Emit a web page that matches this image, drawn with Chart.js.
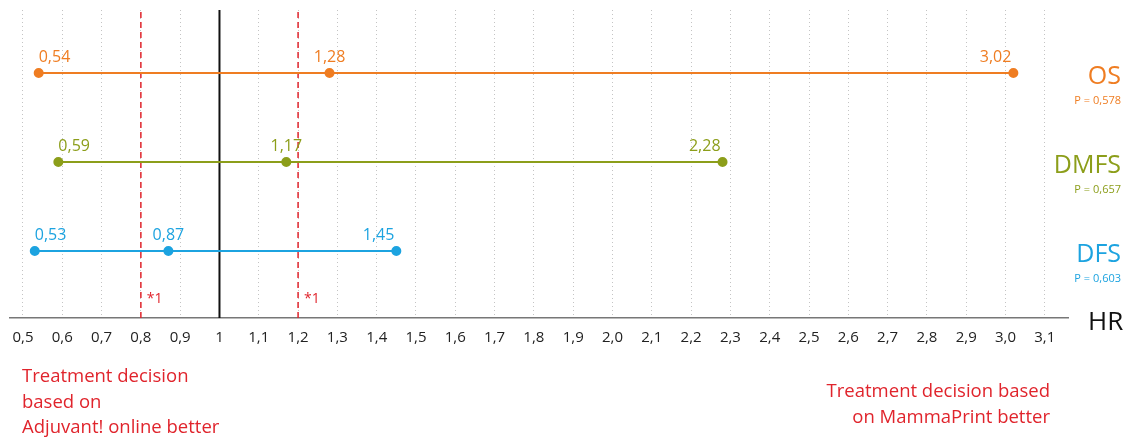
<!DOCTYPE html>
<html>
<head>
<meta charset="utf-8">
<title>Hazard ratios</title>
<script src="https://cdn.jsdelivr.net/npm/chart.js@4.4.0/dist/chart.umd.min.js"></script>
<style>
  html, body { margin: 0; padding: 0; background: #fff; }
  canvas { display: block; }
</style>
</head>
<body>
<canvas id="hr-chart" width="1132" height="439"></canvas>
<script>
// hazard ratios: lower bound, estimate, upper bound per endpoint
const outcomes = ['OS', 'DMFS', 'DFS'];
const pValues = ['P = 0,578', 'P = 0,657', 'P = 0,603'];
const hrLower = [0.54, 0.59, 0.53];
const hrPoint = [1.28, 1.17, 0.87];
const hrUpper = [3.02, 2.28, 1.45];
const tickLabels = ['0,5', '0,6', '0,7', '0,8', '0,9', '1', '1,1', '1,2', '1,3', '1,4',
  '1,5', '1,6', '1,7', '1,8', '1,9', '2,0', '2,1', '2,2', '2,3', '2,4', '2,5', '2,6',
  '2,7', '2,8', '2,9', '3,0', '3,1'];
const noEffect = 1;
const decisionBounds = [0.8, 1.2];

const outcomeColors = ['#ef7d22', '#8c9e1a', '#1ca3e0'];
const RED = '#e0242c';
const FONT = '"Open Sans", "Noto Sans", sans-serif';
const Y_MIN = 0.247, Y_MAX = 3.708;

const toNum = s => parseFloat(s.replace(',', '.'));
const fmt = v => v.toFixed(2).replace('.', ',');

const seriesSets = outcomes.map((name, i) => ({
  label: name,
  data: [hrLower[i], hrPoint[i], hrUpper[i]].map(v => ({ x: v, y: outcomes.length - i })),
  showLine: true,
  borderColor: outcomeColors[i],
  backgroundColor: outcomeColors[i],
  borderWidth: 2,
  pointRadius: 4,
  pointHoverRadius: 4,
  order: 0
}));

const vline = (x, color, width, dash) => ({
  label: 'ref ' + x,
  data: [{ x: x, y: Y_MIN }, { x: x, y: Y_MAX }],
  showLine: true,
  borderColor: color,
  borderWidth: width,
  borderDash: dash,
  pointRadius: 0,
  order: 1
});

const refSets = [vline(noEffect, '#111', 2, [])]
  .concat(decisionBounds.map(b => vline(b, RED, 1.5, [6, 4])));

const annotations = {
  id: 'annotations',
  afterDatasetsDraw(chart) {
    const ctx = chart.ctx;
    const xs = chart.scales.x, ys = chart.scales.y;
    const area = chart.chartArea;
    ctx.save();

    // value labels above each point
    ctx.font = '16px ' + FONT;
    ctx.textBaseline = 'alphabetic';
    outcomes.forEach((name, i) => {
      const vals = [hrLower[i], hrPoint[i], hrUpper[i]];
      const aligns = ['left', 'center', 'right'];
      const shift = [0, 0, -2];
      chart.getDatasetMeta(i).data.forEach((pt, j) => {
        ctx.fillStyle = outcomeColors[i];
        ctx.textAlign = aligns[j];
        ctx.fillText(fmt(vals[j]), pt.x + shift[j], pt.y - 11);
      });

      // endpoint name and p-value on the right
      const rowY = ys.getPixelForValue(outcomes.length - i);
      ctx.textAlign = 'right';
      ctx.font = '25px ' + FONT;
      ctx.fillText(name, 1121, rowY + 11);
      ctx.font = '11px ' + FONT;
      ctx.fillText(pValues[i], 1121, rowY + 31);
      ctx.font = '16px ' + FONT;
    });

    // footnote markers next to the decision bounds
    ctx.fillStyle = RED;
    ctx.textAlign = 'left';
    ctx.font = '14px ' + FONT;
    decisionBounds.forEach(b => {
      ctx.fillText('*1', xs.getPixelForValue(b) + 6, area.bottom - 15);
    });

    // axis title
    ctx.fillStyle = '#111';
    ctx.font = '26px ' + FONT;
    ctx.fillText('HR', area.right + 20, area.bottom + 12);

    // interpretation notes under the axis
    ctx.fillStyle = RED;
    ctx.font = '18.5px ' + FONT;
    ctx.textAlign = 'left';
    ['Treatment decision', 'based on', 'Adjuvant! online better'].forEach((t, k) => {
      ctx.fillText(t, 22, 382 + k * 25.5);
    });
    ctx.textAlign = 'right';
    ['Treatment decision based', 'on MammaPrint better'].forEach((t, k) => {
      ctx.fillText(t, 1050, 397 + k * 26);
    });
    ctx.restore();
  }
};

new Chart(document.getElementById('hr-chart'), {
  type: 'scatter',
  data: { datasets: seriesSets.concat(refSets) },
  options: {
    responsive: false,
    animation: false,
    layout: { padding: { left: 10, right: 64, top: 10, bottom: 81 } },
    plugins: { legend: { display: false }, tooltip: { enabled: false } },
    scales: {
      x: {
        type: 'linear',
        min: 0.467,
        max: 3.159,
        afterBuildTicks(scale) {
          scale.ticks = tickLabels.map(l => ({ value: toNum(l), label: l }));
        },
        ticks: {
          autoSkip: false,
          maxRotation: 0,
          padding: 11,
          color: '#222',
          font: { family: FONT, size: 15 },
          callback(value) {
            const hit = tickLabels.find(l => Math.abs(toNum(l) - value) < 1e-6);
            return hit || '';
          }
        },
        grid: {
          color: '#c4c4c4',
          lineWidth: 1,
          drawTicks: false
        },
        border: { display: true, color: '#777', width: 1.5, dash: [1, 3] }
      },
      y: {
        type: 'linear',
        display: false,
        min: Y_MIN,
        max: Y_MAX
      }
    }
  },
  plugins: [annotations]
});
</script>
</body>
</html>
